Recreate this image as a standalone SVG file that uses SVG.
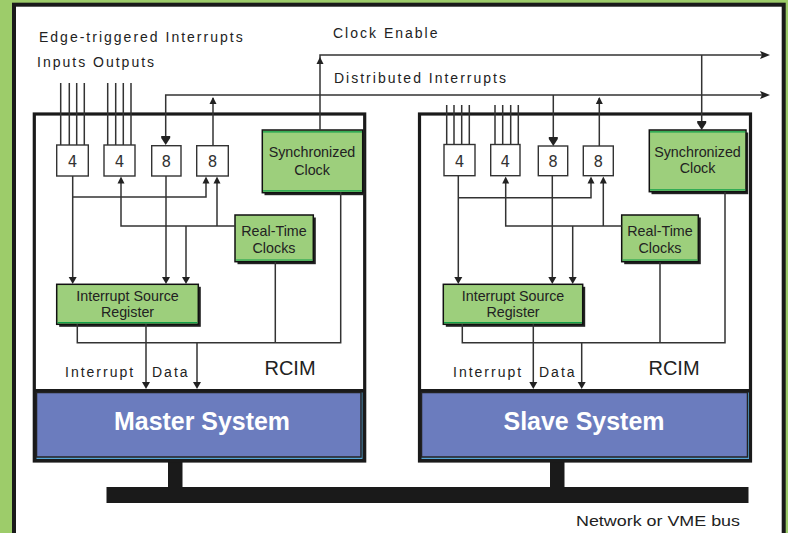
<svg xmlns="http://www.w3.org/2000/svg" width="788" height="533" viewBox="0 0 788 533">
  <style>
    .wire { fill: none; stroke: #333; stroke-width: 1.5; }
    .head { fill: #222; }
    .lbl { font-family: "Liberation Sans", Arial, sans-serif; font-size: 14px; fill: #222; letter-spacing: 2px; }
    .btxt { font-family: "Liberation Sans", Arial, sans-serif; font-size: 14.3px; fill: #222; text-anchor: middle; }
    .dig { font-family: "DejaVu Sans", sans-serif; font-size: 15px; fill: #333; text-anchor: middle; }
    .cell { fill: #fff; stroke: #333; stroke-width: 1.4; }
    .gbox { fill: #9dcf7c; stroke: #111; stroke-width: 1.5; }
    .gshadow { fill: #222; }
    .gline { stroke: #10a048; stroke-width: 1.2; }
    .sys { fill: #6b7cbe; stroke: #222; stroke-width: 1.5; }
    .systxt { font-family: "Liberation Sans", Arial, sans-serif; font-weight: bold; font-size: 25px; fill: #fff; text-anchor: middle; }
    .frame { fill: #fff; stroke: #1a1a1a; stroke-width: 3.2; }
  </style>
  <defs>
    <path id="dn" d="M-4,-7 L4,-7 L0,0 Z"/>
    <path id="dnw" d="M-4.5,-9 L4.5,-9 L4.5,-7 L0,0 L-4.5,-7 Z"/>
    <path id="up" d="M-3.5,7 L3.5,7 L0,0 Z"/>
    <path id="rt" d="M-10,-4 L-8,0 L-10,4 L0,0 Z"/>
  </defs>

  <!-- background and panel -->
  <rect x="0" y="0" width="788" height="533" fill="#9dcc6a"/>
  <rect x="14" y="4.7" width="769.7" height="545" fill="#fff" stroke="#1a1a1a" stroke-width="4"/>

  <!-- top labels -->
  <text class="lbl" x="39" y="41.7">Edge-triggered Interrupts</text>
  <text class="lbl" x="37" y="66.7">Inputs Outputs</text>
  <text class="lbl" x="333" y="38.3">Clock Enable</text>
  <text class="lbl" x="334" y="83.3">Distributed Interrupts</text>

  <!-- network bus -->
  <g id="bus">
    <rect x="168" y="460" width="14.5" height="28" fill="#1a1a1a"/>
    <rect x="550" y="460" width="14.5" height="28" fill="#1a1a1a"/>
    <rect x="106.5" y="487" width="642" height="16" fill="#1a1a1a"/>
    <text x="740" y="525.5" text-anchor="end" font-family="Liberation Sans, Arial, sans-serif" font-size="15px" fill="#222" textLength="164" lengthAdjust="spacingAndGlyphs">Network or VME bus</text>
  </g>

  <!-- master system -->
  <g id="master">
    <rect class="frame" x="34.3" y="114" width="330.4" height="347"/>
    <rect x="34.3" y="389" width="330.4" height="72" fill="#1a1a1a"/>
    <rect x="36.5" y="392.5" width="326" height="66.5" fill="#56a6d6"/>
    <rect class="sys" x="36.5" y="392.5" width="324.5" height="64.5"/>
    <text class="systxt" x="202" y="430" textLength="176" lengthAdjust="spacingAndGlyphs">Master System</text>
    <text x="290" y="375" text-anchor="middle" font-family="Liberation Sans, Arial, sans-serif" font-size="20px" fill="#222">RCIM</text>
    <text class="lbl" x="65" y="376.7">Interrupt</text>
    <text class="lbl" x="152" y="376.7">Data</text>
  </g>
  <g id="m-in1"><rect class="cell" x="56.7" y="145" width="31.6" height="31"/><text class="dig" x="72.5" y="166.5">4</text></g>
  <g id="m-in2"><rect class="cell" x="104" y="145" width="31" height="31"/><text class="dig" x="119.5" y="166.5">4</text></g>
  <g id="m-d1"><rect class="cell" x="151.7" y="145.7" width="29.3" height="30.3"/><text class="dig" x="166.3" y="166.5">8</text></g>
  <g id="m-d2"><rect class="cell" x="196.7" y="145.7" width="31.6" height="30.3"/><text class="dig" x="212.5" y="166.5">8</text></g>
  <g id="m-sync">
    <rect class="gshadow" x="264.5" y="132.5" width="100.4" height="62.7"/>
    <rect class="gbox" x="262.3" y="130" width="100.4" height="62.7"/>
    <line class="gline" x1="263" y1="131.8" x2="362" y2="131.8"/>
    <line class="gline" x1="263" y1="190.8" x2="362" y2="190.8"/>
    <text class="btxt" x="312" y="157.3">Synchronized</text>
    <text class="btxt" x="312" y="175">Clock</text>
  </g>
  <g id="m-rtc">
    <rect class="gshadow" x="237.5" y="217.5" width="78.3" height="46.7"/>
    <rect class="gbox" x="235" y="215" width="78.3" height="46.7"/>
    <line class="gline" x1="235.8" y1="260" x2="312.5" y2="260"/>
    <text class="btxt" x="274" y="236">Real-Time</text>
    <text class="btxt" x="274" y="252.7">Clocks</text>
  </g>
  <g id="m-isr">
    <rect class="gshadow" x="59.2" y="286.8" width="141.6" height="40"/>
    <rect class="gbox" x="56.7" y="284.3" width="141.6" height="40"/>
    <line class="gline" x1="57.5" y1="322.6" x2="197.5" y2="322.6"/>
    <text class="btxt" x="127.5" y="300.7">Interrupt Source</text>
    <text class="btxt" x="127.5" y="317.3">Register</text>
  </g>

  <!-- slave system -->
  <g id="slave">
    <rect class="frame" x="419.5" y="114" width="331" height="347"/>
    <rect x="419.5" y="389" width="331" height="72" fill="#1a1a1a"/>
    <rect x="421.5" y="392.5" width="327.5" height="66.5" fill="#56a6d6"/>
    <rect class="sys" x="421.5" y="392.5" width="326" height="64.5"/>
    <text class="systxt" x="584" y="430" textLength="161" lengthAdjust="spacingAndGlyphs">Slave System</text>
    <text x="674" y="375" text-anchor="middle" font-family="Liberation Sans, Arial, sans-serif" font-size="20px" fill="#222">RCIM</text>
    <text class="lbl" x="453" y="376.7">Interrupt</text>
    <text class="lbl" x="539" y="376.7">Data</text>
  </g>
  <g id="s-in1"><rect class="cell" x="444" y="144.5" width="31" height="31.2"/><text class="dig" x="459.5" y="166.5">4</text></g>
  <g id="s-in2"><rect class="cell" x="490.7" y="144.5" width="29.3" height="31.2"/><text class="dig" x="505.3" y="166.5">4</text></g>
  <g id="s-d1"><rect class="cell" x="538.3" y="146" width="29.4" height="29.7"/><text class="dig" x="553" y="166.5">8</text></g>
  <g id="s-d2"><rect class="cell" x="583.3" y="146" width="30" height="29.7"/><text class="dig" x="598.3" y="166.5">8</text></g>
  <g id="s-sync">
    <rect class="gshadow" x="651.5" y="132.5" width="96.7" height="61.7"/>
    <rect class="gbox" x="649.3" y="130" width="96.7" height="61.7"/>
    <line class="gline" x1="650" y1="131.8" x2="745.3" y2="131.8"/>
    <line class="gline" x1="650" y1="189.8" x2="745.3" y2="189.8"/>
    <text class="btxt" x="697.5" y="156.7">Synchronized</text>
    <text class="btxt" x="697.5" y="173.3">Clock</text>
  </g>
  <g id="s-rtc">
    <rect class="gshadow" x="624.2" y="217.5" width="76.6" height="46.7"/>
    <rect class="gbox" x="621.7" y="215" width="76.6" height="46.7"/>
    <line class="gline" x1="622.5" y1="260" x2="697.5" y2="260"/>
    <text class="btxt" x="660" y="236">Real-Time</text>
    <text class="btxt" x="660" y="252.7">Clocks</text>
  </g>
  <g id="s-isr">
    <rect class="gshadow" x="445.8" y="286.8" width="139.4" height="40"/>
    <rect class="gbox" x="443.3" y="284.3" width="139.4" height="40"/>
    <line class="gline" x1="444" y1="322.6" x2="582" y2="322.6"/>
    <text class="btxt" x="513" y="300.7">Interrupt Source</text>
    <text class="btxt" x="513" y="317.3">Register</text>
  </g>

  <!-- connectors -->
  <g id="connectors">
    <path class="wire" d="M60.7,83V145M69.3,83V145M76.7,83V145M84.3,83V145M107.7,83V145M115.7,83V145M123.3,83V145M131,83V145"/>
    <path class="wire" d="M320,130V55H762"/>
    <path class="wire" d="M165.7,137V95H762"/>
    <path class="wire" d="M213,146V98"/>
    <path class="wire" d="M72.7,176V278M72.7,197H206V182"/>
    <path class="wire" d="M121,182V226H235M217,182V226M186,226V278"/>
    <path class="wire" d="M166,176V278"/>
    <path class="wire" d="M77.3,324V342.7H340.7V192M275.3,262V342.7"/>
    <path class="wire" d="M146,324V383M197,342.7V383"/>

    <path class="wire" d="M446.7,105V145M454,105V145M461.7,105V145M469.3,105V145M495,105V145M502.7,105V145M510.7,105V145M518.3,105V145"/>
    <path class="wire" d="M701.7,55V122"/>
    <path class="wire" d="M553.3,95V138"/>
    <path class="wire" d="M599.3,146V98"/>
    <path class="wire" d="M458.3,176V278M458.3,197.7H591V182"/>
    <path class="wire" d="M505.7,182V226H621.7M603.3,182V226M572.7,226V278"/>
    <path class="wire" d="M552.3,176V278"/>
    <path class="wire" d="M462.3,324V342.7H725V192M660,262V342.7"/>
    <path class="wire" d="M533.3,324V383M581.7,342.7V383"/>

    <!-- arrowheads -->
    <use href="#rt" class="head" x="770" y="55"/>
    <use href="#rt" class="head" x="770" y="95"/>
    <use href="#up" class="head" x="320" y="57"/>
    <use href="#dnw" class="head" x="165.7" y="145"/>
    <use href="#up" class="head" x="213" y="97"/>
    <use href="#up" class="head" x="121" y="176.5"/>
    <use href="#up" class="head" x="206" y="176.5"/>
    <use href="#up" class="head" x="217" y="176.5"/>
    <use href="#dn" class="head" x="72.7" y="284"/>
    <use href="#dn" class="head" x="166" y="284"/>
    <use href="#dn" class="head" x="186" y="284"/>
    <use href="#dn" class="head" x="146" y="389"/>
    <use href="#dn" class="head" x="197" y="389"/>

    <use href="#dnw" class="head" x="701.7" y="130"/>
    <use href="#dnw" class="head" x="553.3" y="146"/>
    <use href="#up" class="head" x="599.3" y="97"/>
    <use href="#up" class="head" x="505.7" y="176.5"/>
    <use href="#up" class="head" x="591" y="176.5"/>
    <use href="#up" class="head" x="603.3" y="176.5"/>
    <use href="#dn" class="head" x="458.3" y="284"/>
    <use href="#dn" class="head" x="552.3" y="284"/>
    <use href="#dn" class="head" x="572.7" y="284"/>
    <use href="#dn" class="head" x="533.3" y="389"/>
    <use href="#dn" class="head" x="581.7" y="389"/>
  </g>
</svg>
